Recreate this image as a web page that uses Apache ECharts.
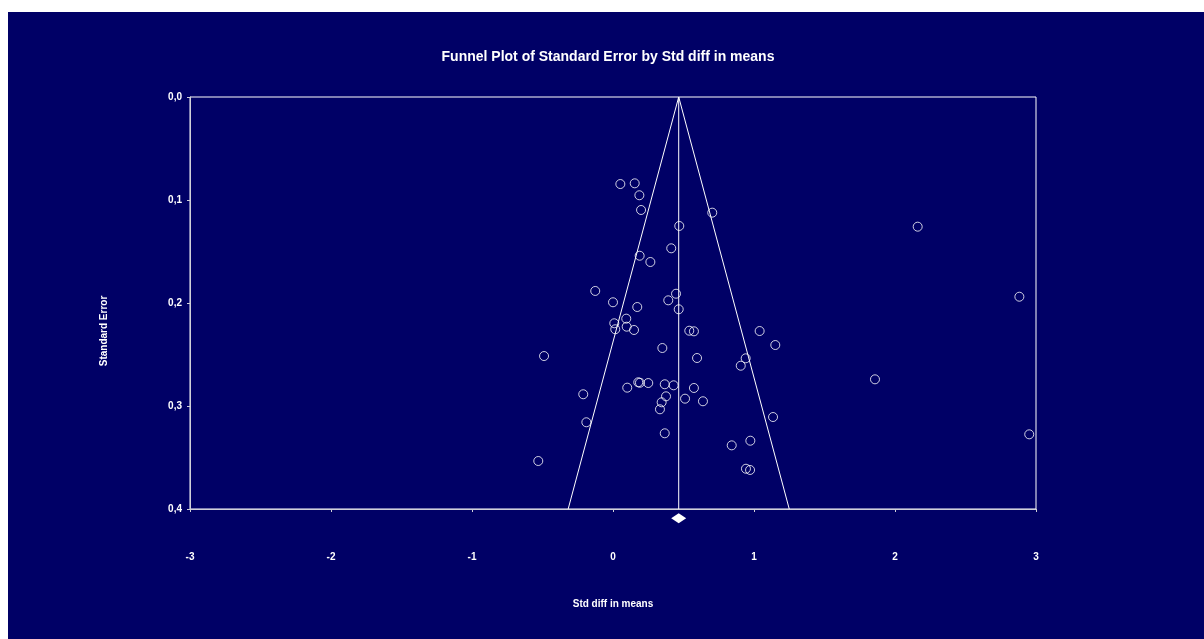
<!DOCTYPE html>
<html>
<head>
<meta charset="utf-8">
<script src="https://cdn.jsdelivr.net/npm/echarts@6/dist/echarts.min.js"></script>
<style>
html,body{margin:0;padding:0;background:#ffffff;width:1204px;height:639px;overflow:hidden;}
#chart{position:absolute;left:8px;top:12px;width:1196px;height:627px;background:#000066;}
</style>
</head>
<body>
<div id="chart"></div>
<script>
// Study effects (Std diff in means) and their standard errors
const studyDiff = [0.052,0.154,0.187,0.199,0.704,0.470,2.161,0.413,0.189,0.265,
  -0.126,2.882,0.447,0.392,0.000,0.172,0.466,0.094,0.009,0.016,
  0.097,0.149,0.541,0.574,1.040,1.151,0.350,-0.489,0.941,0.596,
  0.906,1.858,0.179,0.191,0.250,0.367,0.430,0.101,0.574,-0.211,
  0.376,0.511,0.638,0.345,0.333,1.135,-0.189,0.367,0.974,2.952,
  0.842,-0.530,0.943,0.972];
const studySE = [0.0845,0.0838,0.0954,0.1097,0.1123,0.1252,0.1259,0.1469,0.1541,0.1602,
  0.1883,0.1939,0.1910,0.1974,0.1993,0.2039,0.2061,0.2152,0.2197,0.2255,
  0.2230,0.2262,0.2269,0.2275,0.2272,0.2408,0.2437,0.2515,0.2537,0.2534,
  0.2609,0.2741,0.2770,0.2774,0.2777,0.2789,0.2799,0.2822,0.2825,0.2886,
  0.2906,0.2929,0.2954,0.2964,0.3032,0.3107,0.3158,0.3265,0.3337,0.3275,
  0.3382,0.3534,0.3609,0.3621];
// Funnel outline (left bottom, apex, right bottom) and summary
const funnelX = [-0.318, 0.466, 1.25];
const funnelSE = [0.4, 0.0, 0.4];
const meanLineX = [0.466, 0.466];
const meanLineSE = [0.0, 0.4];
const summaryX = [0.466];
const summarySE = [0.409];
const xTickLabels = ['-3','-2','-1','0','1','2','3'];
const yTickLabels = ['0,0','0,1','0,2','0,3','0,4'];

const pts = studyDiff.map((d,i)=>[d, studySE[i]]);
const funnel = funnelX.map((x,i)=>[x, funnelSE[i]]);
const meanLine = meanLineX.map((x,i)=>[x, meanLineSE[i]]);
const summary = summaryX.map((x,i)=>[x, summarySE[i]]);

const chart = echarts.init(document.getElementById('chart'), null, {renderer:'canvas'});
const font = 'Liberation Sans, Arial, sans-serif';
chart.setOption({
  backgroundColor: '#000066',
  animation: false,
  title: {
    text: 'Funnel Plot of Standard Error by Std diff in means',
    left: 595, top: 33, textAlign: 'center',
    textStyle: {color:'#ffffff', fontSize:14, fontWeight:'bold', fontFamily:font}
  },
  grid: {left:182, top:85, right:168, bottom:130, show:true, borderColor:'#ffffff', borderWidth:1, backgroundColor:'transparent'},
  xAxis: {
    type:'value', min:-3, max:3, interval:1,
    axisLine:{show:true, onZero:false, lineStyle:{color:'#d0d0d8', width:1}},
    axisTick:{show:true, length:3, lineStyle:{color:'#d0d0d8'}},
    splitLine:{show:false},
    axisLabel:{color:'#ffffff', fontSize:10, fontWeight:'bold', fontFamily:font, margin:43,
      formatter:(v)=>xTickLabels[Math.round(v)+3]},
    name:'Std diff in means', nameLocation:'middle', nameGap:90,
    nameTextStyle:{color:'#ffffff', fontSize:10, fontWeight:'bold', fontFamily:font}
  },
  yAxis: {
    type:'value', min:0, max:0.4, interval:0.1, inverse:true,
    axisLine:{show:true, onZero:false, lineStyle:{color:'#d0d0d8', width:1}},
    axisTick:{show:true, length:3, lineStyle:{color:'#d0d0d8'}},
    splitLine:{show:false},
    axisLabel:{color:'#ffffff', fontSize:10, fontWeight:'bold', fontFamily:font, margin:8,
      formatter:(v)=>yTickLabels[Math.round(v*10)]}
  },
  graphic: [{
    type:'text', rotation:Math.PI/2,
    x:96, y:319,
    style:{text:'Standard Error', fill:'#ffffff', font:'bold 10px '+font, textAlign:'center', textVerticalAlign:'middle'}
  }],
  series: [
    {type:'line', data:funnel, symbol:'none', lineStyle:{color:'#ffffff', width:1}, silent:true},
    {type:'line', data:meanLine, symbol:'none', lineStyle:{color:'#ffffff', width:1}, silent:true},
    {type:'scatter', data:pts, symbol:'circle', symbolSize:9,
      itemStyle:{color:'transparent', borderColor:'#ffffff', borderWidth:1}},
    {type:'scatter', data:summary, symbol:'diamond', symbolSize:[15,10], clip:false,
      itemStyle:{color:'#ffffff', opacity:1}}
  ]
});
</script>
</body>
</html>
